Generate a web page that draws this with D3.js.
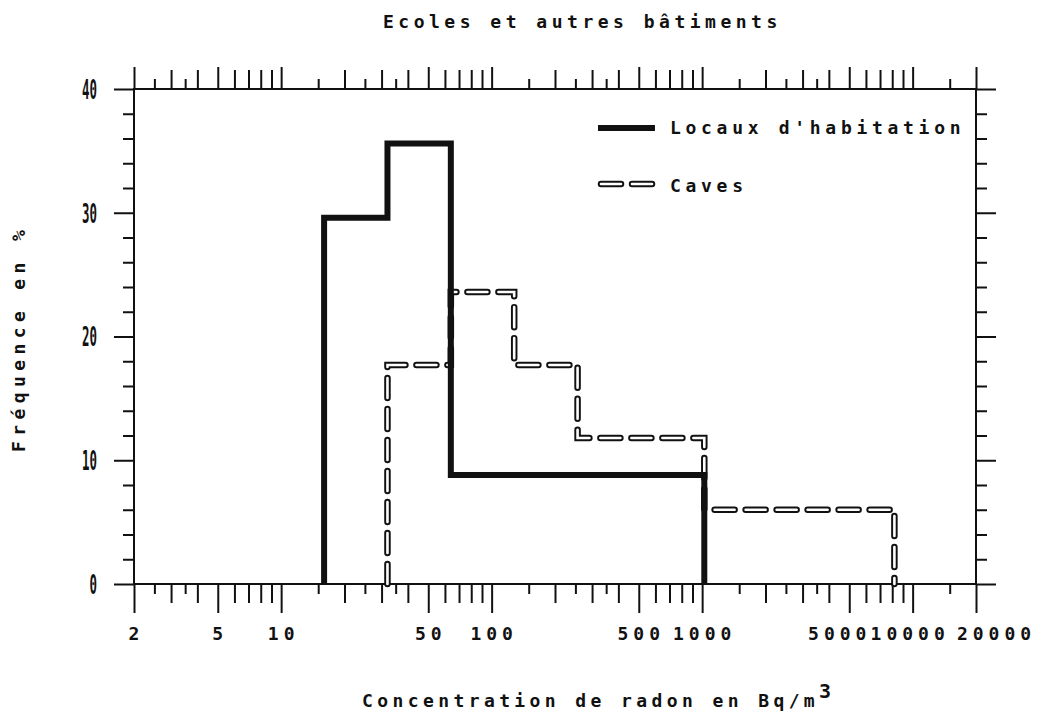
<!DOCTYPE html>
<html>
<head>
<meta charset="utf-8">
<script src="https://cdn.jsdelivr.net/npm/d3@7"></script>
<style>
  body { margin: 0; background: #fff; }
  text { font-family: "DejaVu Sans Mono", monospace; font-weight: bold; fill: #111; }
</style>
</head>
<body>
<svg id="chart" width="1041" height="713"></svg>
<script>
// data
var habitEdges = [16, 32, 64, 128, 256, 512, 1024];
var habitValues = [29.6, 35.6, 8.8, 8.8, 8.8, 8.8];
var cavesEdges = [32, 64, 128, 256, 512, 1024, 2048, 4096, 8192];
var cavesValues = [17.7, 23.6, 17.7, 11.8, 11.8, 6.0, 6.0, 6.0];

var xTickLabels = [2, 5, 10, 50, 100, 500, 1000, 5000, 10000, 20000];
var xMidMantissas = [2, 3, 4, 6, 7, 8, 9];
var xShortMantissas = [1.5, 2.5, 3.5];
var decades = [1, 10, 100, 1000, 10000];
var yTickLabels = [0, 10, 20, 30, 40];
var yMinorTicks = [2, 4, 6, 8, 12, 14, 16, 18, 22, 24, 26, 28, 32, 34, 36, 38];

var legendNames = ["Locaux d'habitation", "Caves"];

var svg = d3.select("#chart");
var pLeft = 134, pRight = 976, pTop = 89, pBottom = 584;

var x = d3.scaleLog().domain([2, 20000]).range([pLeft, pRight]);
var y = d3.scaleLinear().domain([0, 40]).range([pBottom, pTop]);

function inDomain(v) { return v >= 2 && v <= 20000; }
var midTicks = [], shortTicks = [];
decades.forEach(function (d) {
    xMidMantissas.forEach(function (m) {
        var v = m * d;
        if (inDomain(v) && xTickLabels.indexOf(v) < 0) midTicks.push(v);
    });
    xShortMantissas.forEach(function (m) {
        var v = m * d;
        if (inDomain(v)) shortTicks.push(v);
    });
});

// frame
svg.append("rect")
    .attr("x", pLeft).attr("y", pTop)
    .attr("width", pRight - pLeft).attr("height", pBottom - pTop)
    .attr("fill", "none").attr("stroke", "#111").attr("stroke-width", 2);

function styleAxis(g) {
    g.select(".domain").remove();
    g.selectAll("line").attr("stroke", "#111").attr("stroke-width", 2);
}

// bottom ticks
svg.append("g").attr("transform", "translate(0," + pBottom + ")")
    .call(d3.axisBottom(x).tickValues(shortTicks).tickSize(10).tickFormat(""))
    .call(styleAxis);
svg.append("g").attr("transform", "translate(0," + pBottom + ")")
    .call(d3.axisBottom(x).tickValues(midTicks).tickSize(19).tickFormat(""))
    .call(styleAxis);
var xLab = svg.append("g").attr("transform", "translate(0," + pBottom + ")")
    .call(d3.axisBottom(x).tickValues(xTickLabels).tickSize(29).tickPadding(14)
        .tickFormat(function (d) { return d; }))
    .call(styleAxis);
xLab.attr("font-family", null).attr("font-size", null);
xLab.selectAll("text")
    .attr("font-size", 18)
    .attr("fill", "#111")
    .style("letter-spacing", "5px")
    .attr("dx", function (d) {
        // crowded labels at the right end were shifted in the original
        if (d === 5000) return -10;
        if (d === 10000) return -3;
        if (d === 20000) return 20;
        return 2;
    });

// top ticks
svg.append("g").attr("transform", "translate(0," + pTop + ")")
    .call(d3.axisTop(x).tickValues(shortTicks).tickSize(10).tickFormat(""))
    .call(styleAxis);
svg.append("g").attr("transform", "translate(0," + pTop + ")")
    .call(d3.axisTop(x).tickValues(midTicks).tickSize(19).tickFormat(""))
    .call(styleAxis);
svg.append("g").attr("transform", "translate(0," + pTop + ")")
    .call(d3.axisTop(x).tickValues(xTickLabels).tickSize(22).tickFormat(""))
    .call(styleAxis);

// left ticks
svg.append("g").attr("transform", "translate(" + pLeft + ",0)")
    .call(d3.axisLeft(y).tickValues(yMinorTicks).tickSize(11).tickFormat(""))
    .call(styleAxis);
var yLab = svg.append("g").attr("transform", "translate(" + pLeft + ",0)")
    .call(d3.axisLeft(y).tickValues(yTickLabels).tickSize(20).tickPadding(17))
    .call(styleAxis);
yLab.attr("font-family", null).attr("font-size", null);
// tall, narrow digits: draw large and squeeze horizontally
yLab.selectAll("text")
    .attr("x", 0)
    .attr("transform", "translate(-37,0) scale(0.46,1)")
    .attr("font-size", 27)
    .style("font-size", "27px")
    .attr("fill", "#111")
    .attr("dy", "0.35em");

// right ticks
svg.append("g").attr("transform", "translate(" + pRight + ",0)")
    .call(d3.axisRight(y).tickValues(yMinorTicks).tickSize(11).tickFormat(""))
    .call(styleAxis);
svg.append("g").attr("transform", "translate(" + pRight + ",0)")
    .call(d3.axisRight(y).tickValues(yTickLabels).tickSize(20).tickFormat(""))
    .call(styleAxis);

// step lines
function stepPoints(edges, values) {
    var pts = [[edges[0], 0]];
    values.forEach(function (v, i) { pts.push([edges[i], v]); });
    pts.push([edges[edges.length - 1], 0]);
    return pts;
}
var line = d3.line()
    .x(function (d) { return x(d[0]); })
    .y(function (d) { return y(d[1]); })
    .curve(d3.curveStepAfter);

var caves = stepPoints(cavesEdges, cavesValues);
svg.append("path").datum(caves).attr("d", line)
    .attr("fill", "none").attr("stroke", "#111").attr("stroke-width", 6.5)
    .attr("stroke-dasharray", "20 11").attr("stroke-linecap", "round");
svg.append("path").datum(caves).attr("d", line)
    .attr("fill", "none").attr("stroke", "#fff").attr("stroke-width", 2.6)
    .attr("stroke-dasharray", "20 11").attr("stroke-linecap", "round");

svg.append("path").datum(stepPoints(habitEdges, habitValues)).attr("d", line)
    .attr("fill", "none").attr("stroke", "#111").attr("stroke-width", 6)
    .attr("stroke-linejoin", "miter");

// legend
var legend = svg.append("g").attr("transform", "translate(598,128)");
legend.append("line").attr("x1", 0).attr("x2", 57).attr("y1", 0).attr("y2", 0)
    .attr("stroke", "#111").attr("stroke-width", 6);
legend.append("line").attr("x1", 3).attr("x2", 54).attr("y1", 56).attr("y2", 56)
    .attr("stroke", "#111").attr("stroke-width", 6.5)
    .attr("stroke-dasharray", "20 11").attr("stroke-linecap", "round");
legend.append("line").attr("x1", 3).attr("x2", 54).attr("y1", 56).attr("y2", 56)
    .attr("stroke", "#fff").attr("stroke-width", 2.6)
    .attr("stroke-dasharray", "20 11").attr("stroke-linecap", "round");
legend.selectAll("text.name")
    .data(legendNames).enter()
    .append("text")
    .attr("class", "name")
    .attr("x", 72)
    .attr("y", function (d, i) { return 6 + i * 58; })
    .attr("font-size", 18)
    .style("letter-spacing", "4.7px")
    .text(function (d) { return d; });

// titles
svg.append("text")
    .attr("x", 383).attr("y", 28)
    .attr("font-size", 18)
    .style("letter-spacing", "4.5px")
    .text("Ecoles et autres bâtiments");

var xTitle = svg.append("text")
    .attr("x", 362).attr("y", 707)
    .attr("font-size", 18)
    .style("letter-spacing", "4.4px")
    .text("Concentration de radon en Bq/m");
xTitle.append("tspan")
    .attr("dy", -9)
    .attr("font-size", 20)
    .text("3");

svg.append("text")
    .attr("transform", "translate(25,452) rotate(-90)")
    .attr("font-size", 18)
    .style("letter-spacing", "5.4px")
    .text("Fréquence en %");
</script>
</body>
</html>
